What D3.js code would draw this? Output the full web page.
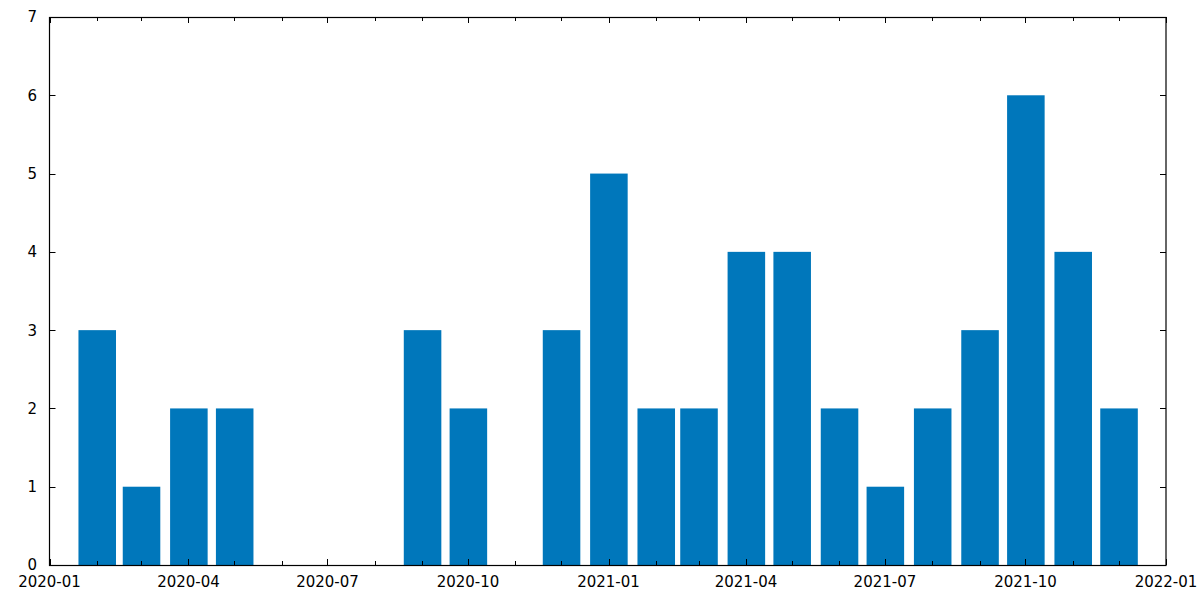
<!DOCTYPE html>
<html>
<head>
<meta charset="utf-8">
<script src="https://cdn.jsdelivr.net/npm/d3@7"></script>
<style>
html,body{margin:0;padding:0;background:#fff;}
svg{display:block;}
text{font-family:"DejaVu Sans",sans-serif;font-size:15px;fill:#000;}
</style>
</head>
<body>
<svg id="chart" width="1200" height="600"></svg>
<script>
// Month-end dates of each bar
const months = ["2020-01-31","2020-02-29","2020-03-31","2020-04-30","2020-05-31","2020-06-30",
  "2020-07-31","2020-08-31","2020-09-30","2020-10-31","2020-11-30","2020-12-31",
  "2021-01-31","2021-02-28","2021-03-31","2021-04-30","2021-05-31","2021-06-30",
  "2021-07-31","2021-08-31","2021-09-30","2021-10-31","2021-11-30"];
const counts = [3,1,2,2,0,0,0,3,2,0,3,5,2,2,4,4,2,1,2,3,6,4,2];
const xTickLabels = ["2020-01","2020-04","2020-07","2020-10","2021-01","2021-04","2021-07","2021-10","2022-01"];
const yTicks = [0,1,2,3,4,5,6,7];

const parse = d3.timeParse("%Y-%m-%d");
const data = months.map((m,i)=>({date:parse(m), value:counts[i]}));

const svg = d3.select("#chart");
const L=49.5, R=1166, T=17, B=565;
const x = d3.scaleTime().domain([parse("2020-01-01"), parse("2022-01-01")]).range([L,R]);
const y = d3.scaleLinear().domain([0,7]).range([B,T]);

const halfDays = 12.3;
const bw = x(d3.timeHour.offset(parse("2020-01-01"), halfDays*48)) - x(parse("2020-01-01"));
const cx = d => x(d3.timeHour.offset(d, 30));

svg.append("g").selectAll("rect").data(data.filter(d=>d.value>0)).join("rect")
  .attr("x", d=>cx(d.date)-bw/2)
  .attr("width", bw)
  .attr("y", d=>y(d.value))
  .attr("height", d=>y(0)-y(d.value))
  .attr("fill", "#0077bb");

// ticks
const monthTicks = d3.timeMonth.range(parse("2020-01-01"), d3.timeDay.offset(parse("2022-01-01"),1));
const quarterSet = new Set(xTickLabels);
const fmt = d3.timeFormat("%Y-%m");
const tg = svg.append("g").attr("stroke","#000").attr("stroke-width",1);
monthTicks.forEach(d=>{
  const major = quarterSet.has(fmt(d));
  const len = major ? 6 : 4;
  const xx = Math.round(x(d))+0.5;
  tg.append("line").attr("x1",xx).attr("x2",xx).attr("y1",B).attr("y2",B-len);
  tg.append("line").attr("x1",xx).attr("x2",xx).attr("y1",T).attr("y2",T+len);
});
yTicks.forEach(v=>{
  const yy = Math.round(y(v))+0.5;
  tg.append("line").attr("x1",L).attr("x2",L+6).attr("y1",yy).attr("y2",yy);
  tg.append("line").attr("x1",R).attr("x2",R-6).attr("y1",yy).attr("y2",yy);
});

// frame
svg.append("rect").attr("x",L).attr("y",T+0.5).attr("width",R-L).attr("height",B-T)
  .attr("fill","none").attr("stroke","#000").attr("stroke-width",1.2);

// labels
svg.append("g").selectAll("text").data(yTicks).join("text")
  .attr("x", 37).attr("y", d=>y(d)).attr("dy","0.36em")
  .attr("text-anchor","end").text(d=>d);
svg.append("g").selectAll("text").data(xTickLabels).join("text")
  .attr("x", d=>x(d3.timeParse("%Y-%m")(d))).attr("y", 587)
  .attr("text-anchor","middle").text(d=>d);
</script>
</body>
</html>
